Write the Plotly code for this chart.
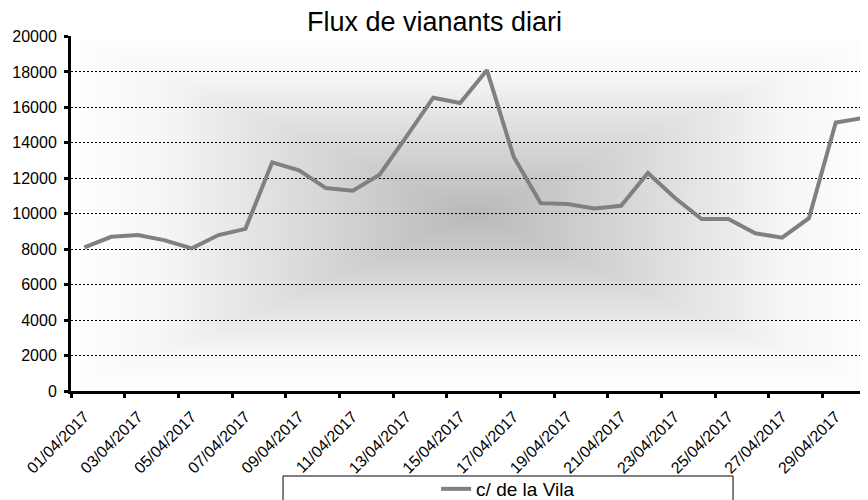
import base64
import plotly.graph_objects as go

# ---- data ----
dates = ["01/04/2017", "02/04/2017", "03/04/2017", "04/04/2017", "05/04/2017",
         "06/04/2017", "07/04/2017", "08/04/2017", "09/04/2017", "10/04/2017",
         "11/04/2017", "12/04/2017", "13/04/2017", "14/04/2017", "15/04/2017",
         "16/04/2017", "17/04/2017", "18/04/2017", "19/04/2017", "20/04/2017",
         "21/04/2017", "22/04/2017", "23/04/2017", "24/04/2017", "25/04/2017",
         "26/04/2017", "27/04/2017", "28/04/2017", "29/04/2017", "30/04/2017"]
vila = [8100, 8700, 8800, 8500, 8050, 8800, 9150, 12900, 12450, 11450,
        11300, 12200, 14350, 16550, 16250, 18100, 13200, 10600, 10550, 10300,
        10450, 12300, 10900, 9700, 9700, 8900, 8650, 9750, 15150, 15400]
series_name = "c/ de la Vila"
title_text = "Flux de vianants diari"
y_ticks = [0, 2000, 4000, 6000, 8000, 10000, 12000, 14000, 16000, 18000, 20000]

# ---- decorative "from centre" gradient for the plot area ----
C = "#b9b9b9"
W = "#ffffff"
L = "#f6f6f6"
def stops(rev):
    s = [(0, W), (0.22, L), (1, C)]
    if rev:
        s = [(round(1 - o, 3), c) for o, c in reversed(s)]
    return "".join(f'<stop offset="{o}" stop-color="{c}"/>' for o, c in s)

svg = f'''<svg xmlns="http://www.w3.org/2000/svg" width="800" height="360" viewBox="0 0 100 100" preserveAspectRatio="none">
<defs>
<linearGradient id="t" x1="0" y1="0" x2="0" y2="1">{stops(False)}</linearGradient>
<linearGradient id="b" x1="0" y1="0" x2="0" y2="1">{stops(True)}</linearGradient>
<linearGradient id="l" x1="0" y1="0" x2="1" y2="0">{stops(False)}</linearGradient>
<linearGradient id="r" x1="0" y1="0" x2="1" y2="0">{stops(True)}</linearGradient>
<radialGradient id="g" cx="0.5" cy="0.5" r="0.5">{stops(True)}</radialGradient>
</defs>
<rect x="0" y="0" width="100" height="100" fill="url(#g)"/>
<polygon points="0,0 100,0 50,50" fill="url(#t)"/>
<polygon points="0,100 100,100 50,50" fill="url(#b)"/>
<polygon points="0,0 0,100 50,50" fill="url(#l)"/>
<polygon points="100,0 100,100 50,50" fill="url(#r)"/>
</svg>'''
svg_uri = "data:image/svg+xml;base64," + base64.b64encode(svg.encode()).decode()

FONT = "Liberation Sans, Arial, sans-serif"

fig = go.Figure()
fig.add_trace(go.Scatter(
    x=dates, y=vila, mode="lines", name=series_name,
    line=dict(color="#808080", width=4),
))

fig.add_layout_image(dict(
    source=svg_uri, xref="paper", yref="paper", x=0, y=1,
    sizex=1.0, sizey=1, sizing="stretch", layer="below",
    xanchor="left", yanchor="top",
))

# legend frame
fig.add_shape(type="rect", xref="paper", yref="paper",
              x0=0.2634, x1=0.8224, y0=-0.2394, y1=-0.40,
              line=dict(color="black", width=1), fillcolor="rgba(0,0,0,0)")

fig.update_layout(
    width=868, height=500,
    margin=dict(l=63, r=0, t=28, b=117, autoexpand=False),
    paper_bgcolor="white",
    plot_bgcolor="rgba(0,0,0,0)",
    font=dict(family=FONT, color="black"),
    title=dict(text=title_text, x=0.4914, xref="container", y=0.972,
               yref="container", yanchor="middle", xanchor="center",
               font=dict(size=27, family=FONT, color="black")),
    showlegend=True,
    legend=dict(orientation="h", x=0.543, xanchor="center", y=-0.276,
                yanchor="middle", font=dict(size=19, family=FONT),
                bgcolor="rgba(0,0,0,0)", borderwidth=0),
    xaxis=dict(
        type="category", range=[-0.5, 29.5], dtick=2, tickson="boundaries",
        ticks="outside", ticklen=4, tickwidth=3, tickcolor="black",
        showline=True, linewidth=3, linecolor="black", automargin=False,
        showgrid=False, tickangle=-45, ticklabelstandoff=7,
        tickfont=dict(size=16, family=FONT, color="black"),
    ),
    yaxis=dict(
        range=[0, 20030], tickvals=y_ticks, tickformat="d",
        ticks="outside", ticklen=4, tickwidth=3, tickcolor="black",
        showline=True, linewidth=3, linecolor="black", automargin=False,
        showgrid=True, gridcolor="black", gridwidth=1, griddash="2px,2px",
        zeroline=False, ticklabelstandoff=4,
        tickfont=dict(size=16, family=FONT, color="black"),
    ),
)

fig.write_html("out.html")
